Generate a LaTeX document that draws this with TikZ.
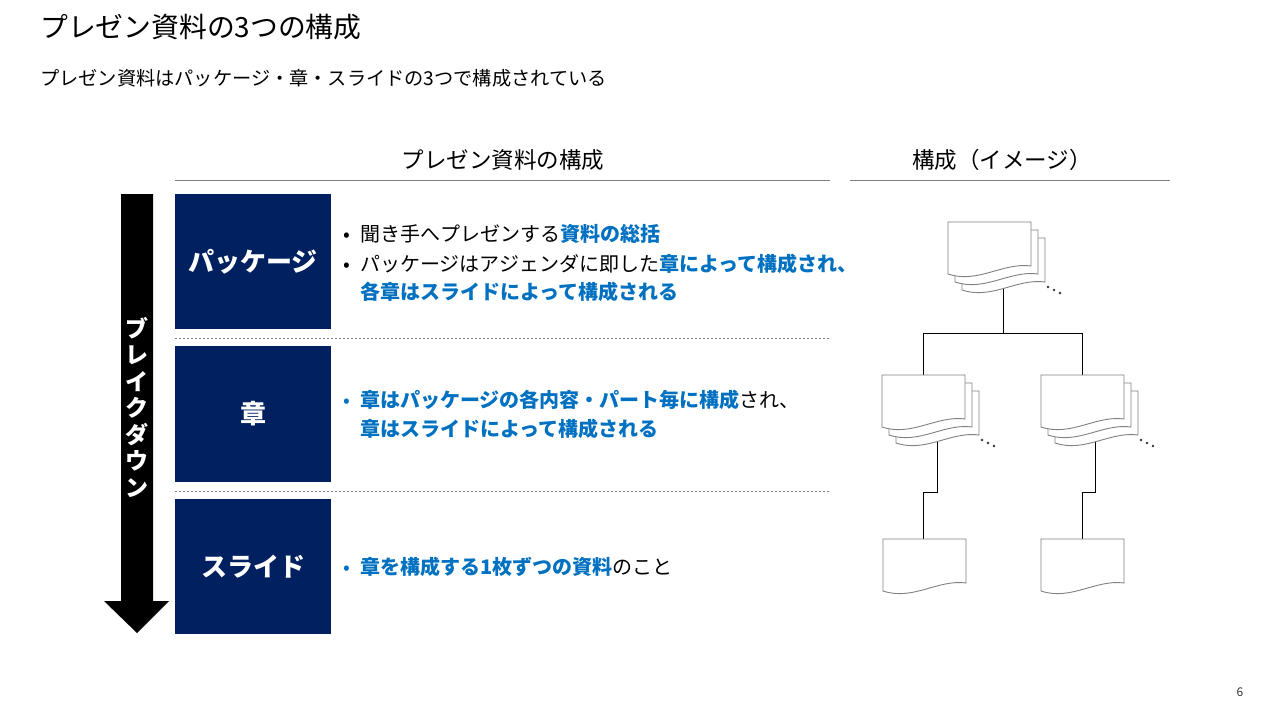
\documentclass[tikz,border=0pt]{standalone}
\usepackage{fontspec}
\setmainfont{Noto Sans CJK JP}
\definecolor{navy}{HTML}{002060}
\definecolor{accent}{HTML}{0070C0}
\definecolor{rulegray}{HTML}{808080}
\newcommand{\hl}[1]{\textcolor{accent}{\bfseries #1}}
\newcommand{\bul}[1]{\llap{\textcolor{#1}{•}\hspace{10pt}}}
% one page of the document icon, #1,#2 = top left corner
\newcommand{\docpage}[2]{%
  \filldraw[pageline] (#1,#2) -- (#1+83,#2) -- (#1+83,#2+44) .. controls (#1+55,#2+40) and (#1+30,#2+62) .. (#1,#2+52) -- cycle;}
\newcommand{\docstack}[2]{%
  \docpage{#1+14}{#2+16}\docpage{#1+7}{#2+8}\docpage{#1}{#2}%
  \foreach \d in {0,1,2}{\fill[black!80] (#1+100+6*\d,#2+65+3*\d) circle (1.3pt);}}
\tikzset{
  stage/.style={fill=navy,text=white,inner sep=0pt,minimum width=156pt,
    font=\bfseries\fontsize{26}{30}\selectfont},
  txt/.style={anchor=west,inner sep=0pt,font=\fontsize{20}{24}\selectfont},
  head/.style={inner sep=0pt,font=\fontsize{22.5}{26}\selectfont},
  pageline/.style={draw=rulegray,fill=white,line width=0.9pt},
  link/.style={draw=black,line width=1pt}
}

\begin{document}
\begin{tikzpicture}[x=1pt,y=-1pt]
  \useasboundingbox (0,0) rectangle (1274,716);
  \node[anchor=west,inner sep=0pt,font=\fontsize{27.8}{32}\selectfont] (title) at (40,27) {プレゼン資料の3つの構成};
  \node[anchor=west,inner sep=0pt,font=\fontsize{19.2}{23}\selectfont] (sub) at (40,78) {プレゼン資料はパッケージ・章・スライドの3つで構成されている};

  \node[head] (lhead) at (503,160) {プレゼン資料の構成};
  \node[head] (rhead) at (1002,160) {構成（イメージ）};
  \draw[rulegray,line width=0.8pt] (175,180) -- (830,180);
  \draw[rulegray,line width=0.8pt] (850,180) -- (1170,180);

  % breakdown arrow
  \fill[black] (121,194) -- (153,194) -- (153,601) -- (169,601) -- (137,633) -- (104,601) -- (121,601) -- cycle;
  \node[text=white,align=center,inner sep=0pt,font=\bfseries\fontsize{23}{26.5}\selectfont] (down) at (137,407) {ブ\\レ\\イ\\ク\\ダ\\ウ\\ン};

  \node[stage,minimum height=135pt] (pkg) at (253,261.5) {パッケージ};
  \node[stage,minimum height=136pt] (chap) at (253,414) {章};
  \node[stage,minimum height=135pt] (slide) at (253,566.5) {スライド};
  \draw[rulegray,dashed,dash pattern=on 2pt off 2pt,line width=0.8pt] (175,338) -- (830,338);
  \draw[rulegray,dashed,dash pattern=on 2pt off 2pt,line width=0.8pt] (175,491) -- (830,491);

  \node[txt] (p1) at (360,234) {\bul{black}聞き手へプレゼンする\hl{資料の総括}};
  \node[txt] (p2) at (360,264) {\bul{black}パッケージはアジェンダに即した\hl{章によって構成され、}};
  \node[txt] (p3) at (360,292) {\hl{各章はスライドによって構成される}};
  \node[txt] (c1) at (360,400) {\bul{accent}\hl{章はパッケージの各内容・パート毎に構成}され、};
  \node[txt] (c2) at (360,429) {\hl{章はスライドによって構成される}};
  \node[txt] (s1) at (360,567) {\bul{accent}\hl{章を構成する1枚ずつの資料}のこと};

  % tree of documents
  \coordinate (top) at (1003,280);
  \coordinate (split) at (1003,333);
  \coordinate (midL) at (923,385);
  \coordinate (midR) at (1082,385);
  \coordinate (midLb) at (937,430);
  \coordinate (midRb) at (1095,430);
  \coordinate (botL) at (923.5,545);
  \coordinate (botR) at (1082,545);
  \draw[link] (top) -- (split) -| (midL);
  \draw[link] (split) -| (midR);
  \draw[link] (midLb) -- ++(0,62) -| (botL);
  \draw[link] (midRb) -- ++(0,62) -| (botR);
  \docstack{948}{222}
  \docstack{882}{375}
  \docstack{1041}{375}
  \docpage{883}{539}
  \docpage{1041}{539}

  \node[inner sep=0pt,font=\fontsize{12}{14}\selectfont,text=black!80] (pnum) at (1240,692) {6};
\end{tikzpicture}
\end{document}
